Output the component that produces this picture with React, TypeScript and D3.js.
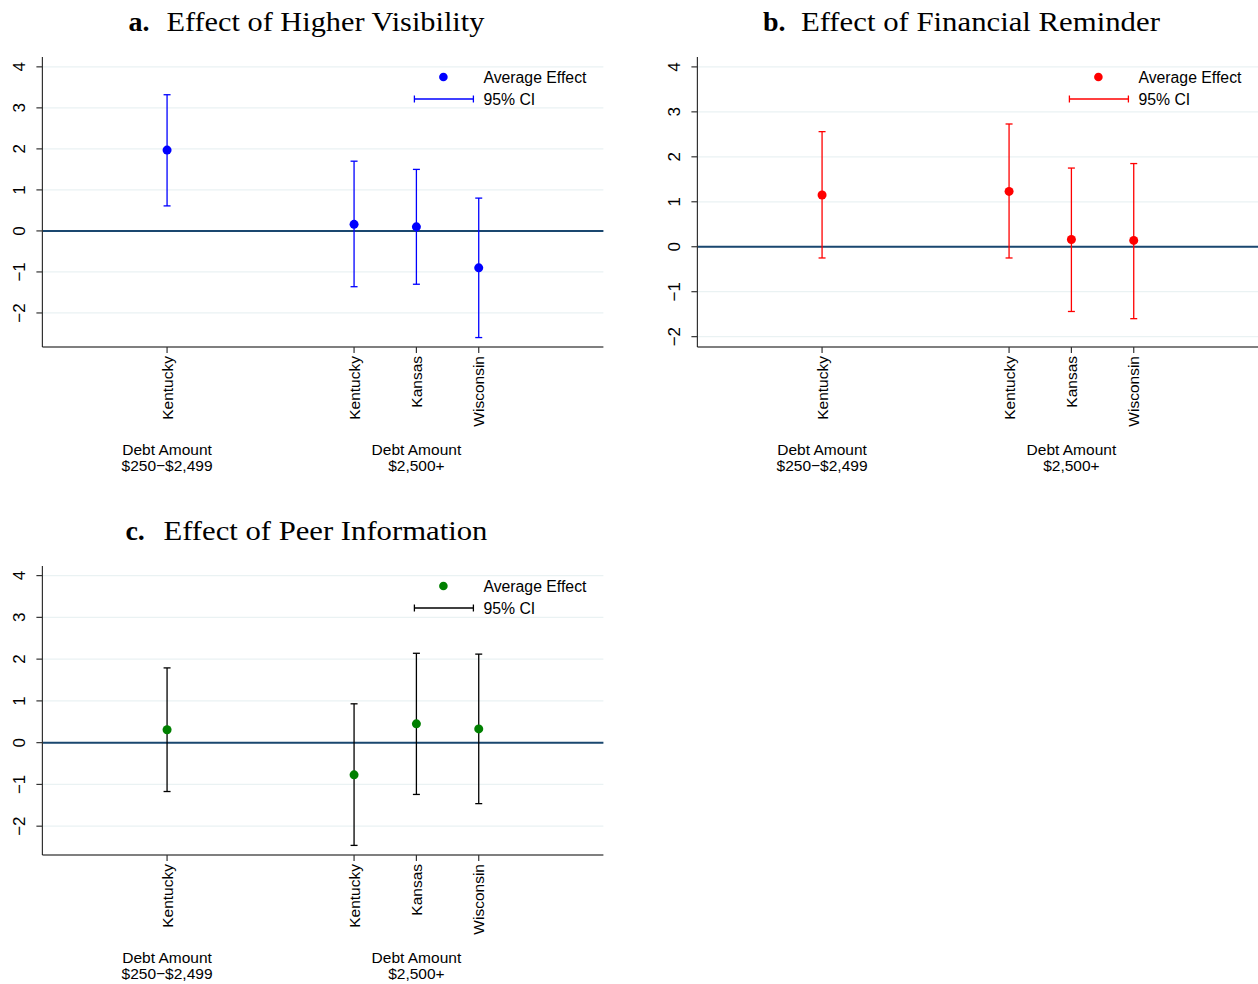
import React from "react";
import { scaleLinear } from "d3";

// categories on the x axis (Stata-style positions)
const categories = ["Kentucky", "Kentucky", "Kansas", "Wisconsin"];
const catPositions = [2, 5, 6, 7];
const groupLines = [
  ["Debt Amount", "$250\u2212$2,499"],
  ["Debt Amount", "$2,500+"],
];
const groupPositions = [2, 6];
const yTicks = [-2, -1, 0, 1, 2, 3, 4];

// a. Higher visibility
const visEffect = [1.97, 0.16, 0.1, -0.9];
const visLow = [0.61, -1.36, -1.3, -2.6];
const visHigh = [3.32, 1.7, 1.5, 0.8];

// b. Financial reminder
const remEffect = [1.15, 1.23, 0.16, 0.14];
const remLow = [-0.25, -0.25, -1.44, -1.6];
const remHigh = [2.56, 2.73, 1.75, 1.85];

// c. Peer information
const peerEffect = [0.31, -0.77, 0.45, 0.33];
const peerLow = [-1.17, -2.46, -1.24, -1.46];
const peerHigh = [1.79, 0.93, 2.14, 2.12];

const SANS = "'Liberation Sans', Arial, Helvetica, sans-serif";
const SERIF = "'Liberation Serif', 'DejaVu Serif', serif";

type PanelProps = {
  left: number;
  top: number;
  bottom: number;
  yDomain: [number, number];
  letter: string;
  title: string;
  titleWidth: number;
  effect: number[];
  low: number[];
  high: number[];
  dotColor: string;
  ciColor: string;
};

function Panel(p: PanelProps) {
  const x = scaleLinear().domain([0, 9]).range([p.left, p.left + 561]);
  const y = scaleLinear().domain(p.yDomain).range([p.bottom, p.top]);
  const x0 = x(0);
  const x1 = x(9);
  const cap = 3.5;

  // title block is centred a bit left of the plot centre
  const titleX = p.left + 264 - (38 + p.titleWidth) / 2;
  const titleY = p.top - 26;

  const legX = p.left + 372;
  return (
    <g>
      {/* title */}
      <text x={titleX} y={titleY} fontFamily={SERIF} fontSize={28} fontWeight="bold" fill="#000">
        {p.letter}
      </text>
      <text
        x={titleX + 38}
        y={titleY}
        fontFamily={SERIF}
        fontSize={28}
        fill="#000"
        textLength={p.titleWidth}
        lengthAdjust="spacingAndGlyphs"
      >
        {p.title}
      </text>

      {/* grid */}
      {yTicks.map((t) => (
        <line key={"g" + t} x1={x0} x2={x1} y1={y(t)} y2={y(t)} stroke="#eaf2f3" strokeWidth={1.3} />
      ))}
      <line x1={x0} x2={x1} y1={y(0)} y2={y(0)} stroke="#1a476f" strokeWidth={2} />

      {/* y axis */}
      <line x1={x0} x2={x0} y1={p.top} y2={p.bottom} stroke="#333" strokeWidth={1.2} />
      {yTicks.map((t) => (
        <g key={"y" + t}>
          <line x1={x0 - 6} x2={x0} y1={y(t)} y2={y(t)} stroke="#333" strokeWidth={1.2} />
          <text
            transform={`translate(${x0 - 23},${y(t)}) rotate(-90)`}
            textAnchor="middle"
            dy="0.35em"
            fontFamily={SANS}
            fontSize={17}
            fill="#000"
          >
            {t < 0 ? "\u2212" + Math.abs(t) : String(t)}
          </text>
        </g>
      ))}

      {/* x axis */}
      <line x1={x0} x2={x1} y1={p.bottom} y2={p.bottom} stroke="#000" strokeWidth={1.2} />
      {catPositions.map((c, i) => (
        <g key={"x" + i}>
          <line x1={x(c)} x2={x(c)} y1={p.bottom} y2={p.bottom + 6} stroke="#333" strokeWidth={1.2} />
          <text
            transform={`translate(${x(c)},${p.bottom + 9}) rotate(-90)`}
            textAnchor="end"
            dy="0.35em"
            fontFamily={SANS}
            fontSize={15.5}
            fill="#000"
          >
            {categories[i]}
          </text>
        </g>
      ))}
      {groupPositions.map((g, i) => (
        <text key={"grp" + i} x={x(g)} textAnchor="middle" fontFamily={SANS} fontSize={15.5} fill="#000">
          <tspan x={x(g)} y={p.bottom + 108}>{groupLines[i][0]}</tspan>
          <tspan x={x(g)} y={p.bottom + 124}>{groupLines[i][1]}</tspan>
        </text>
      ))}

      {/* CIs and points */}
      {catPositions.map((c, i) => (
        <g key={"d" + i} stroke={p.ciColor} strokeWidth={1.3}>
          <line x1={x(c)} x2={x(c)} y1={y(p.low[i])} y2={y(p.high[i])} />
          <line x1={x(c) - cap} x2={x(c) + cap} y1={y(p.low[i])} y2={y(p.low[i])} />
          <line x1={x(c) - cap} x2={x(c) + cap} y1={y(p.high[i])} y2={y(p.high[i])} />
        </g>
      ))}
      {catPositions.map((c, i) => (
        <circle key={"p" + i} cx={x(c)} cy={y(p.effect[i])} r={4.5} fill={p.dotColor} />
      ))}

      {/* legend */}
      <circle cx={legX + 29} cy={p.top + 20} r={4.3} fill={p.dotColor} />
      <text x={legX + 69} y={p.top + 25.5} fontFamily={SANS} fontSize={15.8} fill="#000">
        Average Effect
      </text>
      <g stroke={p.ciColor} strokeWidth={1.3}>
        <line x1={legX} x2={legX + 59} y1={p.top + 42} y2={p.top + 42} />
        <line x1={legX} x2={legX} y1={p.top + 38.5} y2={p.top + 45.5} />
        <line x1={legX + 59} x2={legX + 59} y1={p.top + 38.5} y2={p.top + 45.5} />
      </g>
      <text x={legX + 69} y={p.top + 47.5} fontFamily={SANS} fontSize={15.8} fill="#000">
        95% CI
      </text>
    </g>
  );
}

export default function App() {
  return (
    <svg
      width={1258}
      height={984}
      viewBox="0 0 1258 984"
      style={{ position: "absolute", left: 0, top: 0, background: "#fff" }}
    >
      <rect width={1258} height={984} fill="#fff" />
      <Panel
        left={42.4}
        top={57}
        bottom={347}
        yDomain={[-2.83, 4.24]}
        letter="a."
        title="Effect of Higher Visibility"
        titleWidth={318}
        effect={visEffect}
        low={visLow}
        high={visHigh}
        dotColor="#0000ff"
        ciColor="#0000ff"
      />
      <Panel
        left={697.4}
        top={57}
        bottom={347}
        yDomain={[-2.23, 4.22]}
        letter="b."
        title="Effect of Financial Reminder"
        titleWidth={359}
        effect={remEffect}
        low={remLow}
        high={remHigh}
        dotColor="#ff0000"
        ciColor="#ff0000"
      />
      <Panel
        left={42.4}
        top={566}
        bottom={855}
        yDomain={[-2.69, 4.23]}
        letter="c."
        title="Effect of Peer Information"
        titleWidth={324}
        effect={peerEffect}
        low={peerLow}
        high={peerHigh}
        dotColor="#008000"
        ciColor="#000000"
      />
    </svg>
  );
}
